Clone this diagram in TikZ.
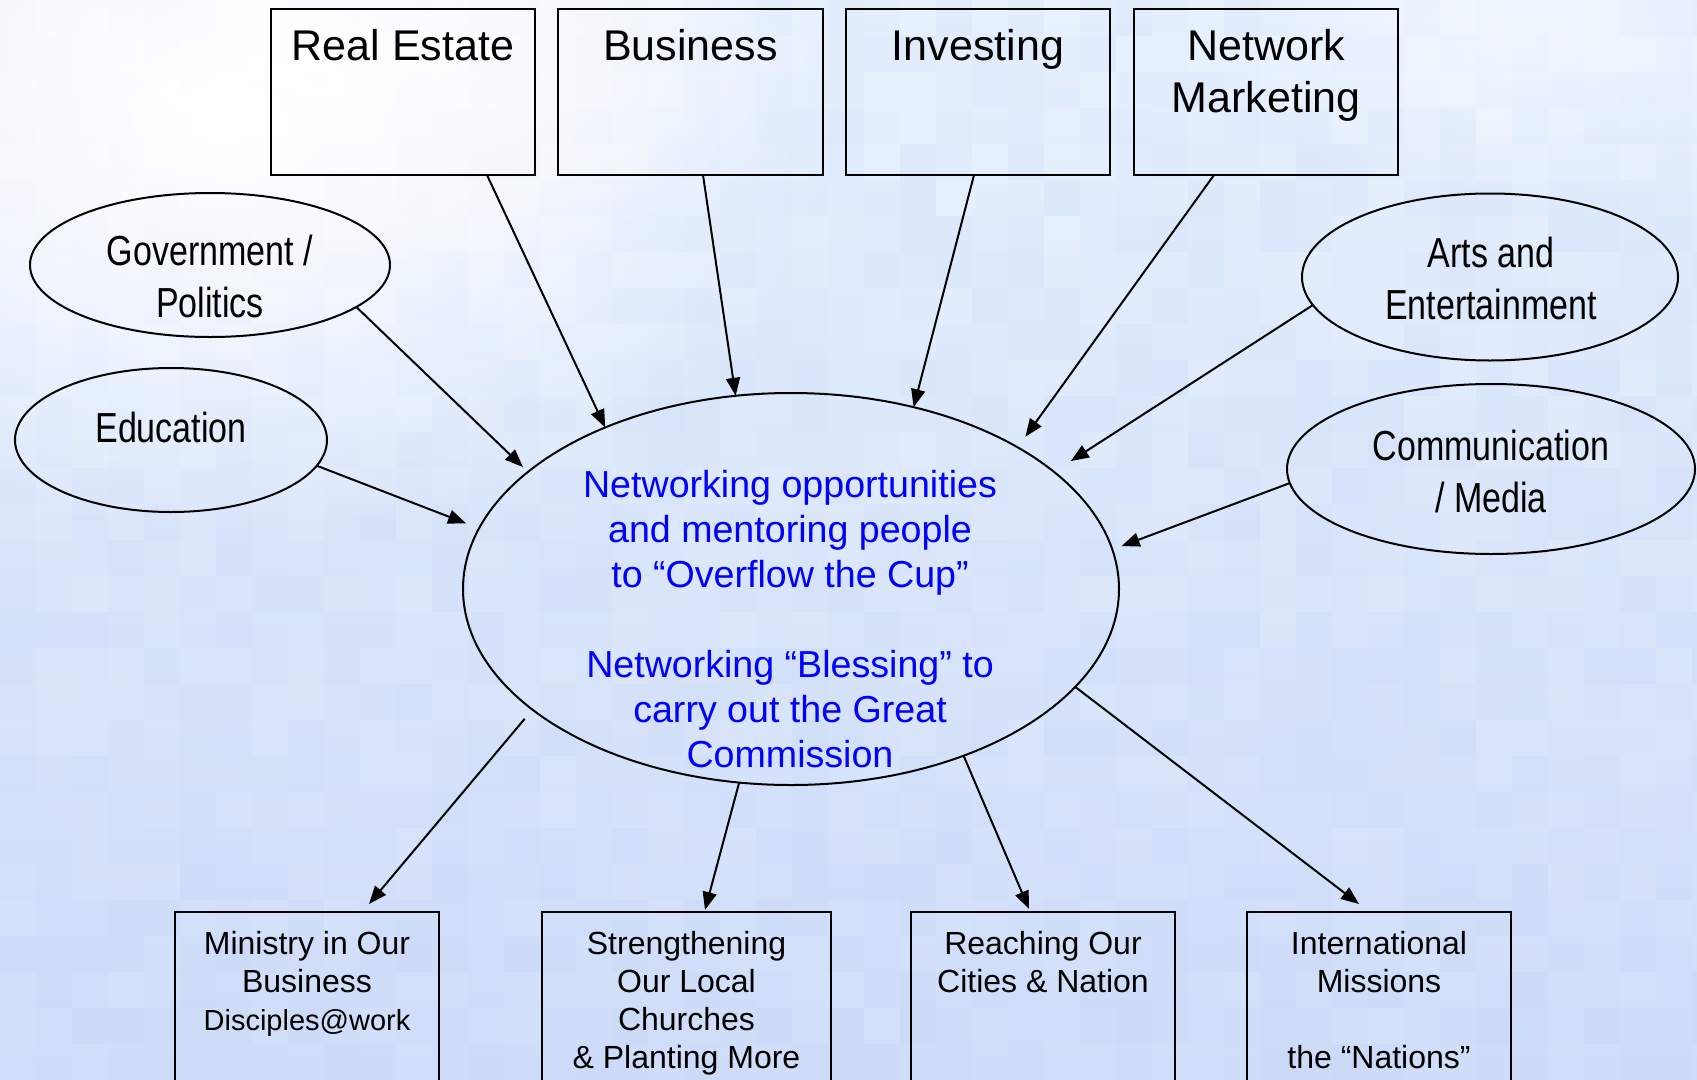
\documentclass[tikz,border=0pt]{standalone}
\usepackage{fontspec}
\setmainfont{Liberation Sans}
\newfontfamily\narrowf{Liberation Sans}[FakeStretch=0.81]
\usetikzlibrary{arrows.meta,shapes.geometric,fadings}
\definecolor{bgtop}{RGB}{234,243,254}
\definecolor{bgbot}{RGB}{210,223,250}
\definecolor{mosaic}{RGB}{160,185,238}
\definecolor{hubblue}{RGB}{0,0,255}
\tikzfading[name=softglow,inner color=transparent!0,outer color=transparent!100]
\begin{document}
\begin{tikzpicture}[x=1pt,y=-1pt,
  box/.style={draw=black,line width=2.3pt,minimum width=264pt,minimum height=166pt,inner sep=0pt,outer sep=0pt},
  bbox/.style={draw=black,line width=2.3pt,minimum width=264pt,minimum height=200pt,inner sep=0pt,outer sep=0pt},
  oval/.style={draw=black,line width=2pt,ellipse,inner sep=0pt,outer sep=0pt},
  toptext/.style={anchor=north,inner sep=0pt,align=center,font=\fontsize{43}{52}\selectfont},
  ovaltext/.style={anchor=north,inner sep=0pt,align=center,font=\narrowf\fontsize{42}{52}\selectfont},
  bluetext/.style={anchor=north,inner sep=0pt,align=center,text=hubblue,font=\fontsize{37.6}{45}\selectfont},
  bottext/.style={anchor=north,inner sep=0pt,align=center,font=\fontsize{32}{38}\selectfont},
  arr/.style={line width=2pt,-{Triangle[length=18pt,width=14pt]}}
]
\useasboundingbox (0,0) rectangle (1697,1079);
\clip (0,0) rectangle (1697,1079);
% background
\shade[top color=bgtop,bottom color=bgbot] (0,0) rectangle (1697,1079);
\pgfmathsetseed{11}
\foreach \i in {0,...,47}{
  \foreach \j in {0,...,30}{
    \pgfmathsetmacro{\op}{0.13*rnd}
    \fill[mosaic,opacity=\op] (\i*36,\j*36) rectangle ++(36,36);
  }
}
\fill[white,path fading=softglow] (230,120) ellipse [x radius=620,y radius=420];
\fill[white,opacity=0.8,path fading=softglow] (330,60) ellipse [x radius=520,y radius=220];
\fill[white,opacity=0.5,path fading=softglow] (1520,40) ellipse [x radius=300,y radius=180];

% top boxes
\node[box] (re) at (403,92) {};
\node[box,minimum width=265pt] (bu) at (690.5,92) {};
\node[box] (inv) at (978,92) {};
\node[box] (nm) at (1266,92) {};
\node[toptext] (reT) at (403,29) {Real Estate};
\node[toptext] (buT) at (690.5,29) {Business};
\node[toptext] (invT) at (978,29) {Investing};
\node[toptext] (nmT) at (1266,29) {Network\\Marketing};

% side ovals
\node[oval,minimum width=360pt,minimum height=144pt] (gov) at (210,265) {};
\node[oval,minimum width=312pt,minimum height=144pt] (edu) at (171,440) {};
\node[oval,minimum width=376pt,minimum height=167pt] (arts) at (1490,277) {};
\node[oval,minimum width=408pt,minimum height=170pt] (comm) at (1491,469) {};
\node[ovaltext] (govT) at (210,235) {Government /\\Politics};
\node[ovaltext] (eduT) at (171,412) {Education};
\node[ovaltext] (artsT) at (1491,237) {Arts and\\Entertainment};
\node[ovaltext] (commT) at (1491,430) {Communication\\/ Media};

% hub
\node[oval,minimum width=656pt,minimum height=392pt] (hub) at (791,589) {};
\node[bluetext] (hubT) at (790,470) {Networking opportunities\\and mentoring people\\to “Overflow the Cup”\\[45pt]Networking “Blessing” to\\carry out the Great\\Commission};

% bottom boxes
\node[bbox] (min) at (307,1012) {};
\node[bbox,minimum width=289pt] (str) at (686.5,1012) {};
\node[bbox] (rea) at (1043,1012) {};
\node[bbox] (intl) at (1379,1012) {};
\node[bottext] (minT) at (307,931) {Ministry in Our\\Business\\{\fontsize{29}{38}\selectfont Disciples@work}};
\node[bottext] (strT) at (686.5,931) {Strengthening\\Our Local\\Churches\\\& Planting More};
\node[bottext] (reaT) at (1043,931) {Reaching Our\\Cities \& Nation};
\node[bottext] (intlT) at (1379,931) {International\\Missions\\[38pt]the “Nations”};

% incoming arrows
\draw[arr] ([xshift=84pt]re.south) -- (hub.139.35);
\draw[arr] ([xshift=12.5pt]bu.south) -- (hub.106.1);
\draw[arr] ([xshift=-4pt]inv.south) -- (hub.56.3);
\draw[arr,shorten >=13pt] ([xshift=-52pt]nm.south) -- (hub.32.8);
\draw[arr,shorten >=7pt] (gov.-16) -- (hub.156.6);
\draw[arr,shorten >=14pt] (edu.-10) -- (hub.169.5);
\draw[arr,shorten >=20pt] (arts.189.7) -- (hub.24);
\draw[arr,shorten >=10pt] (comm.184.4) -- (hub.7.9);
% outgoing arrows
\draw[arr,shorten <=12pt] (hub.-155) -- ([xshift=62pt,yshift=8pt]min.north);
\draw[arr] (hub.-105.7) -- ([xshift=18.5pt,yshift=2pt]str.north);
\draw[arr] (hub.-44.2) -- ([xshift=-14pt,yshift=3pt]rea.north);
\draw[arr] (hub.-19.46) -- ([xshift=-20pt,yshift=8pt]intl.north);
\end{tikzpicture}
\end{document}
